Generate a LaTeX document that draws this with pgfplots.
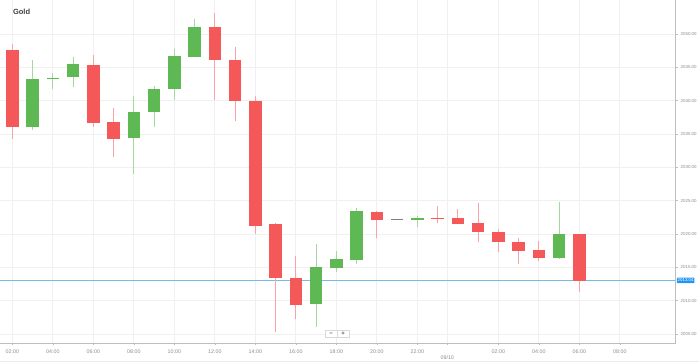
\documentclass[border=0pt]{standalone}
\usepackage{fontspec}
\setmainfont{Liberation Sans}
\usepackage{pgfplots}
\pgfplotsset{compat=1.18}
\usepackage{pgfplotstable}
\definecolor{cred}{RGB}{245,88,88}
\definecolor{cgreen}{RGB}{94,184,84}
\definecolor{cgray}{RGB}{128,128,128}
\definecolor{gridc}{RGB}{240,240,240}
\definecolor{axc}{RGB}{190,190,190}
\definecolor{tickc}{RGB}{140,140,140}
\definecolor{pline}{RGB}{120,185,230}
\definecolor{pbox}{RGB}{33,150,243}

% x = hour (2 = 02:00 on day 1, 24 = 00:00 on 09/10), o h l c
\pgfplotstableread{
x o h l c
2 2047.6 2048.5 2034.2 2036.1
6 2045.4 2046.8 2036.1 2036.75
7 2036.75 2038.85 2031.6 2034.4
12 2051.0 2053.2 2040.1 2046.2
13 2046.15 2048.0 2037.0 2040.0
14 2040.0 2040.7 2020.0 2021.35
15 2021.5 2021.6 2005.35 2013.45
16 2013.45 2016.7 2007.2 2009.5
20 2023.35 2023.4 2019.35 2022.25
23 2022.45 2024.2 2021.6 2022.35
24 2022.4 2023.7 2021.5 2021.55
25 2021.6 2024.6 2018.85 2020.4
26 2020.35 2020.7 2017.35 2018.85
27 2018.85 2019.35 2015.45 2017.55
28 2017.55 2018.95 2015.95 2016.45
30 2020.0 2020.0 2011.35 2013.04
}\redtab
\pgfplotstableread{
x o h l c
3 2036.0 2046.1 2035.6 2043.2
4 2043.2 2044.1 2041.7 2043.4
5 2043.5 2046.6 2042.0 2045.4
8 2034.35 2040.7 2029.0 2038.25
9 2038.25 2042.25 2036.1 2041.75
10 2041.75 2047.7 2040.1 2046.6
11 2046.6 2052.2 2046.6 2051.0
17 2009.5 2018.5 2006.1 2014.95
18 2014.95 2017.45 2014.35 2016.2
19 2016.15 2023.95 2015.45 2023.35
22 2022.2 2022.7 2021.1 2022.3
29 2016.45 2024.8 2016.3 2020.0
}\greentab
\pgfplotstableread{
x o h l c
21 2022.25 2022.25 2022.25 2022.25
}\graytab

\pgfplotsset{
  wick/.style={line width=0.8pt, quiver={u=0, v=\thisrow{h}-\thisrow{l}}},
  body/.style={line width=12.5pt, quiver={u=0, v=\thisrow{c}-\thisrow{o}}},
  cap/.style={only marks, mark=-, mark size=6.25pt, mark options={line width=0.9pt}},
}

\begin{document}
\begin{tikzpicture}
\begin{axis}[
  name=ax,
  at={(0pt,0pt)}, anchor=south west,
  scale only axis,
  width=675.7pt, height=343pt,
  xmin=1.39, xmax=34.76,
  ymin=2003.65, ymax=2055.1,
  axis x line*=bottom, axis y line*=right,
  axis line style={axc, line width=0.8pt},
  every tick/.style={axc, line width=0.6pt},
  tick align=outside, major tick length=2.5pt,
  grid=major, major grid style={gridc, line width=0.7pt},
  xtick={2,4,6,8,10,12,14,16,18,20,22,26,28,30,32},
  xticklabels={02:00,04:00,06:00,08:00,10:00,12:00,14:00,16:00,18:00,20:00,22:00,02:00,04:00,06:00,08:00},
  extra x ticks={23.48},
  extra x tick labels={09/10},
  extra x tick style={grid=major, xticklabel style={yshift=-6.5pt}},
  xticklabel style={font=\fontsize{5.3}{6}\selectfont, text=tickc, yshift=-0.5pt},
  ytick={2005,2010,...,2050},
  yticklabels={2005.00,2010.00,2015.00,2020.00,2025.00,2030.00,2035.00,2040.00,2045.00,2050.00},
  yticklabel style={font=\fontsize{4.4}{5}\selectfont, text=tickc, xshift=-1pt},
  /pgf/number format/assume math mode=true,
  clip=true,
]
% current price line
\addplot[pline, line width=0.8pt] coordinates {(1.39,2013.04) (34.76,2013.04)};
% wicks
\addplot[cred!55!white, wick] table[x=x, y=l] {\redtab};
\addplot[cgreen!55!white, wick] table[x=x, y=l] {\greentab};
% bodies
\addplot[cred, body] table[x=x, y=o] {\redtab};
\addplot[cgreen, body] table[x=x, y=o] {\greentab};
\addplot[cred, cap] table[x=x, y=c] {\redtab};
\addplot[cgreen, cap] table[x=x, y=c] {\greentab};
\addplot[cgray, cap] table[x=x, y=c] {\graytab};
\coordinate (pl) at (axis cs:34.76,2013.04);
\end{axis}
% price label
\node[fill=pbox, text=white, inner sep=0.8pt, anchor=west, rounded corners=0.8pt,
      font=\fontsize{4.4}{5}\selectfont, minimum height=5.6pt] at ([xshift=1pt]pl) {2013.04};
% title
\node[anchor=west, font=\bfseries\fontsize{7.5}{8}\selectfont, text=black!75] at (9.5pt,331pt) {Gold};
% zoom buttons
\draw[black!15, fill=white, line width=0.5pt] (325pt,5.7pt) rectangle (337pt,12.3pt);
\draw[black!15, fill=white, line width=0.5pt] (337pt,5.7pt) rectangle (349pt,12.3pt);
\node[font=\bfseries\fontsize{6}{6}\selectfont, text=black!65, inner sep=0pt] at (331pt,9pt) {−};
\node[font=\bfseries\fontsize{6}{6}\selectfont, text=black!65, inner sep=0pt] at (343pt,9pt) {+};
% bottom border
\draw[black!8, line width=0.8pt] (0pt,-18.5pt) -- (699pt,-18.5pt);
\pgfresetboundingbox
\path[use as bounding box] (0pt,-20pt) rectangle (699pt,343pt);
\end{tikzpicture}
\end{document}
